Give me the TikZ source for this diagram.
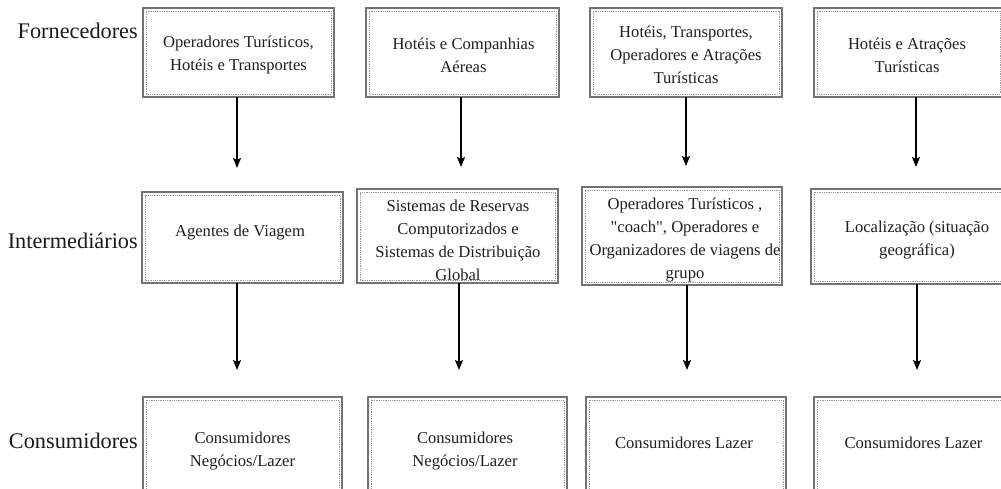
\documentclass[tikz,border=0pt]{standalone}
\usepackage{fontspec}
\setmainfont{Liberation Serif}
\newfontfamily\straightq{Liberation Serif}[Ligatures=TeXOff]
\newcommand\sq{{\straightq\symbol{34}}}
\usetikzlibrary{arrows.meta,calc}
\begin{document}
\begin{tikzpicture}[x=1pt,y=-1pt,
  box/.style={draw=black!55, line width=1.1pt, fill=white, inner sep=0pt, outer sep=0pt},
  innerline/.style={draw=black!40, line width=0.5pt, dash pattern=on 1pt off 0.8pt},
  txt/.style={align=center, inner sep=0pt, text=black!88, font=\fontsize{16.6}{23}\selectfont},
  rowlabel/.style={anchor=east, inner sep=0pt, text=black!90, font=\fontsize{22.3}{26}\selectfont},
  arr/.style={line width=1.6pt, -{Stealth[length=10pt,width=8pt,inset=2pt]}}]
\useasboundingbox (0,0) rectangle (1001,488);
\clip (0,0) rectangle (1001,488);

% row labels
\node[rowlabel] (lf) at (138,31) {Fornecedores};
\node[rowlabel] (li) at (138,241) {Intermediários};
\node[rowlabel] (lc) at (138,441) {Consumidores};

% suppliers
\node[box, minimum width=191pt, minimum height=89pt] (f1) at (238.5,52.5) {};
\node[box, minimum width=193pt, minimum height=89pt] (f2) at (462.5,52.5) {};
\node[box, minimum width=192pt, minimum height=89pt] (f3) at (686,52.5) {};
\node[box, minimum width=189pt, minimum height=89pt] (f4) at (908.5,52.5) {};

% intermediaries
\node[box, minimum width=201pt, minimum height=91pt] (i1) at (242.5,237.5) {};
\node[box, minimum width=201pt, minimum height=94pt] (i2) at (457.5,236) {};
\node[box, minimum width=200pt, minimum height=98pt] (i3) at (682,236) {};
\node[box, minimum width=212pt, minimum height=95pt] (i4) at (917,236.5) {};

% consumers
\node[box, minimum width=199pt, minimum height=95pt] (c1) at (242.5,444.5) {};
\node[box, minimum width=199pt, minimum height=95pt] (c2) at (467.5,444.5) {};
\node[box, minimum width=200pt, minimum height=95pt] (c3) at (686,444.5) {};
\node[box, minimum width=199pt, minimum height=95pt] (c4) at (913.5,444.5) {};

% inner dotted frames
\foreach \n in {f1,f2,f3,f4,i1,i2,i3,i4,c1,c2,c3,c4}
  \draw[innerline] ($(\n.south west)+(3pt,3pt)$) rectangle ($(\n.north east)+(-3pt,-3pt)$);

% box texts
\node[txt] (tf1) at (238.5,55) {Operadores Turísticos,\\Hotéis e Transportes};
\node[txt] (tf2) at (463.5,55) {Hotéis e Companhias\\Aéreas};
\node[txt] (tf3) at (686,55) {Hotéis, Transportes,\\Operadores e Atrações\\Turísticas};
\node[txt] (tf4) at (907,55) {Hotéis e Atrações\\Turísticas};

\node[txt] (ti1) at (240,233) {Agentes de Viagem};
\node[txt] (ti2) at (458,240) {Sistemas de Reservas\\Computorizados e\\Sistemas de Distribuição\\Global};
\node[txt] (ti3) at (685,240) {Operadores Turísticos ,\\\sq coach\sq, Operadores e\\Organizadores de viagens de\\grupo};
\node[txt] (ti4) at (917,240) {Localização (situação\\geográfica)};

\node[txt] (tc1) at (242.5,451) {Consumidores\\Negócios/Lazer};
\node[txt] (tc2) at (465,451) {Consumidores\\Negócios/Lazer};
\node[txt] (tc3) at (684,443) {Consumidores Lazer};
\node[txt] (tc4) at (913.5,443) {Consumidores Lazer};

% arrow columns
\coordinate (a1) at (237,0);
\coordinate (a2) at (461,0);
\coordinate (a3) at (686,0);
\coordinate (a4) at (916,0);
\coordinate (b1) at (237,0);
\coordinate (b2) at (459,0);
\coordinate (b3) at (687,0);
\coordinate (b4) at (917,0);

\draw[arr, shorten >=24pt] (a1 |- f1.south) -- (a1 |- i1.north);
\draw[arr, shorten >=22pt] (a2 |- f2.south) -- (a2 |- i2.north);
\draw[arr, shorten >=21pt] (a3 |- f3.south) -- (a3 |- i3.north);
\draw[arr, shorten >=22pt] (a4 |- f4.south) -- (a4 |- i4.north);

\draw[arr, shorten >=27pt] (b1 |- i1.south) -- (b1 |- c1.north);
\draw[arr, shorten >=27pt] (b2 |- i2.south) -- (b2 |- c2.north);
\draw[arr, shorten >=27pt] (b3 |- i3.south) -- (b3 |- c3.north);
\draw[arr, shorten >=27pt] (b4 |- i4.south) -- (b4 |- c4.north);
\end{tikzpicture}
\end{document}
